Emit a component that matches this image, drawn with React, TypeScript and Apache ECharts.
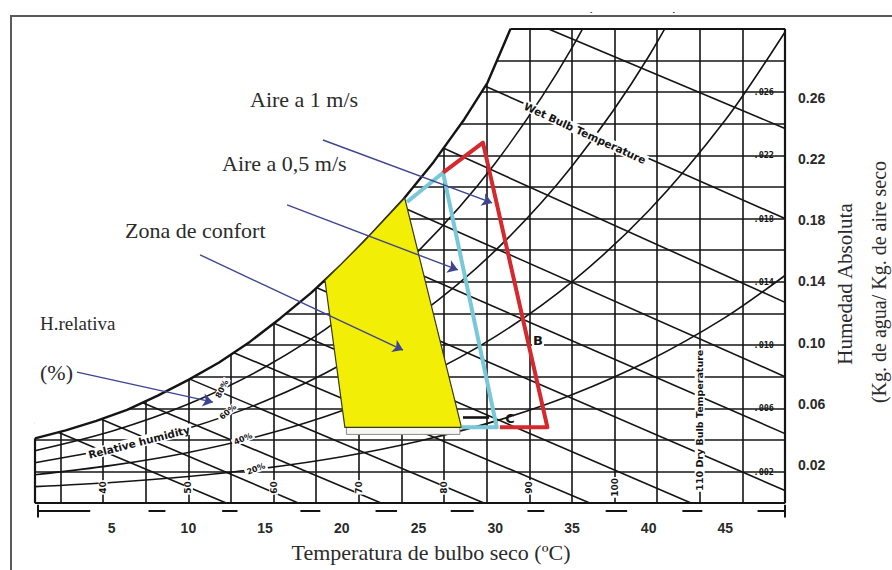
import React, { useEffect, useRef } from "react";
import * as echarts from "echarts";

// ---------- data ----------
// x axis: dry-bulb temperature (°C); y axis: humidity ratio of the printed chart (x 0.001)
const tempLabelsC = [5, 10, 15, 20, 25, 30, 35, 40, 45];
const absHumidityLabels = [0.02, 0.06, 0.1, 0.14, 0.18, 0.22, 0.26];
const ratioLabels = [2, 6, 10, 14, 18, 22, 26];
const ratioGrid = [2, 4, 6, 8, 10, 12, 14, 16, 18, 20, 22, 24, 26, 28];
const dryBulbGrid = [1.67, 4.44, 7.22, 10, 12.78, 15.56, 18.33, 21.11, 23.89, 26.67, 29.44, 32.22, 35, 37.78, 40.56, 43.33, 46.11];
const fahrenheitLabels = ["40", "50", "60", "70", "80", "90", "100"];
const fahrenheitLabelT = [4.44, 10, 15.56, 21.11, 26.67, 32.22, 37.78];
const fahrenheitLabelW = [1.0, 1.0, 1.0, 1.0, 1.0, 1.0, 1.0];
const dryBulbTitle = "110 Dry Bulb Temperature";
const dryBulbTitlePos = [43.33, 5.25];

const saturationT = [0, 2, 4, 6, 8, 10, 12, 14, 16, 18, 20, 22, 24, 26, 28, 29.5, 31];
const saturationW = [4.1, 4.6, 5.2, 5.9, 6.8, 7.8, 8.9, 10.2, 11.7, 13.3, 15.1, 17.1, 19.2, 21.6, 24.3, 26.6, 30];

// wet-bulb lines: [T start, w start, T end, w end]
const wetBulbLines = [
  [0, 5.1, 12.5, 0],
  [2.4, 6.1, 17.2, 0],
  [5.2, 7.1, 22.6, 0],
  [8.0, 8.7, 29.3, 0],
  [10.8, 10.4, 36.2, 0],
  [13.6, 12.2, 42.8, 0],
  [16.3, 14.5, 48.89, 0.8],
  [19.1, 17.0, 48.89, 4.4],
  [21.9, 19.6, 48.89, 8.0],
  [24.7, 23.3, 48.89, 12.7],
  [27.4, 27.2, 48.89, 18.0],
  [31.5, 30.8, 48.89, 23.7],
];

// relative-humidity curves (20 %, 40 %, 60 %, 80 %)
const rhT = [0, 5, 10, 15, 20, 25, 30, 35, 40, 45, 48.89];
const rh20W = [1.05, 1.31, 1.69, 2.22, 2.94, 3.92, 5.19, 6.86, 9.01, 11.75, 14.4];
const rh40W = [1.8, 2.39, 3.21, 4.34, 5.85, 7.88, 10.53, 14.0, 18.49, 24.23, 29.8];
const rh60W = [2.56, 3.47, 4.74, 6.46, 8.79, 11.9, 15.97, 21.31, 28.25, 37.2];
const rh80W = [3.32, 4.55, 6.27, 8.61, 11.75, 15.96, 21.5, 28.79, 38.3];
const rhCurves = [rh20W, rh40W, rh60W, rh80W];

// overlays
const comfortZone = [[24.1, 19.3], [21.5, 16.6], [18.9, 14.1], [20.2, 4.8], [27.8, 4.8]];
const comfortStrip = [[20.3, 4.8], [27.7, 4.8], [27.7, 4.35], [20.3, 4.35]];
const air05Path = [[24.25, 19.05], [26.6, 20.9], [30.1, 4.8], [27.8, 4.8]];
const air1Path = [[26.6, 20.9], [29.2, 22.8], [33.4, 4.8], [30.3, 4.8]];
const markerC = [[27.9, 5.45], [29.6, 5.45]];
const arrows = [
  [[18.77, 22.97], [29.8, 18.99]],
  [[16.43, 18.86], [27.57, 14.75]],
  [[10.76, 15.7], [23.99, 9.68]],
  [[2.74, 8.29], [11.6, 6.39]],
];
const scaleBar = [[0.2, 3.6], [7.4, 8.5], [12.2, 13.2], [17.3, 18.6], [22.2, 23.6], [27.1, 28.6], [32.1, 33.2], [37.2, 38.6], [42.2, 43.5], [47.1, 48.89]];

// ---------- styles ----------
const INK = "#141414";
const SERIF = '"Liberation Serif", "Times New Roman", serif';
const SANS = '"Liberation Sans", Arial, sans-serif';
const PRINT = '"DejaVu Sans", "Liberation Sans", sans-serif';

function polygonSeries(pts: number[][], style: any, z: number) {
  return {
    type: "custom",
    coordinateSystem: "cartesian2d",
    silent: true,
    clip: true,
    z,
    data: [[0, 0]],
    renderItem: (_p: any, api: any) => ({
      type: "polygon",
      shape: { points: pts.map((p) => api.coord(p)) },
      style,
    }),
  };
}

function lineSeries(data: number[][], lineStyle: any, z: number, smooth: any = false) {
  return {
    type: "line",
    data,
    smooth,
    symbol: "none",
    silent: true,
    z,
    lineStyle,
    emphasis: { disabled: true },
  };
}

function buildOption() {
  const gridLines = [
    ...ratioGrid.map((w) => ({ coords: [[0, w], [48.89, w]] })),
    ...dryBulbGrid.map((t) => ({ coords: [[t, 0], [t, 30]] })),
    ...wetBulbLines.map((l) => ({ coords: [[l[0], l[1]], [l[2], l[3]]] })),
  ];
  const frameLines = [
    { coords: [[0, 0], [48.89, 0]] },
    { coords: [[0, 0], [0, saturationW[0]]] },
    { coords: [[48.89, 0], [48.89, 30]] },
    { coords: [[saturationT[saturationT.length - 1], 30], [48.89, 30]] },
  ];
  const satPts = saturationT.map((t, i) => [t, saturationW[i]]);
  const maskPts = [...satPts, [48.89, 30], [48.89, 31], [0, 31]];

  const series: any[] = [
    {
      type: "lines",
      coordinateSystem: "cartesian2d",
      silent: true,
      z: 1,
      data: gridLines,
      lineStyle: { color: INK, width: 1.6, opacity: 1 },
    },
    ...rhCurves.map((arr) => lineSeries(arr.map((w, i) => [rhT[i], w]), { color: INK, width: 1.6 }, 1, 0.3)),
    polygonSeries(maskPts, { fill: "#ffffff" }, 3),
    {
      type: "lines",
      coordinateSystem: "cartesian2d",
      silent: true,
      z: 4,
      data: frameLines,
      lineStyle: { color: INK, width: 2.2, opacity: 1 },
    },
    lineSeries(satPts, { color: INK, width: 2.4 }, 4),
    {
      type: "lines",
      coordinateSystem: "cartesian2d",
      silent: true,
      z: 4,
      clip: false,
      data: [
        ...scaleBar.map((s) => ({ coords: [[s[0], -0.5], [s[1], -0.5]] })),
        { coords: [[0.2, -0.1], [0.2, -0.9]] },
        { coords: [[48.89, -0.1], [48.89, -0.9]] },
      ],
      lineStyle: { color: INK, width: 2, opacity: 1 },
    },
    {
      type: "scatter",
      silent: true,
      z: 5,
      symbolSize: 2,
      itemStyle: { color: "rgba(0,0,0,0)" },
      data: [
        ...fahrenheitLabels.map((name, i) => ({ name, value: [fahrenheitLabelT[i], fahrenheitLabelW[i]] })),
        {
          name: dryBulbTitle,
          value: dryBulbTitlePos,
          label: { fontSize: 9.5 },
        },
      ],
      label: {
        show: true,
        position: "inside",
        formatter: "{b}",
        rotate: 90,
        fontSize: 9,
        fontWeight: "bold",
        fontFamily: PRINT,
        color: INK,
        opacity: 1,
        backgroundColor: "#fff",
        padding: [0, 1],
      },
    },
    polygonSeries(comfortStrip, { fill: "#f6f6f2", stroke: "#8a8a8a", lineWidth: 1 }, 6),
    polygonSeries(comfortZone, { fill: "#f3ee05", stroke: "#3a3a10", lineWidth: 1.2 }, 6),
    {
      type: "lines",
      coordinateSystem: "cartesian2d",
      polyline: true,
      silent: true,
      z: 7,
      data: [{ coords: air05Path }],
      lineStyle: { color: "#78c8d8", width: 4, opacity: 1, join: "round" },
    },
    {
      type: "lines",
      coordinateSystem: "cartesian2d",
      polyline: true,
      silent: true,
      z: 7,
      data: [{ coords: air1Path }],
      lineStyle: { color: "#d42a2e", width: 4, opacity: 1, join: "round" },
    },
    {
      type: "lines",
      coordinateSystem: "cartesian2d",
      silent: true,
      z: 7,
      data: [{ coords: markerC }],
      lineStyle: { color: INK, width: 2.6, opacity: 1 },
    },
    {
      type: "lines",
      coordinateSystem: "cartesian2d",
      silent: true,
      z: 8,
      symbol: ["none", "arrow"],
      symbolSize: 10,
      data: arrows.map((a) => ({ coords: a })),
      lineStyle: { color: "#3d4590", width: 1.4, opacity: 1 },
    },
  ];

  const txt = (text: string, x: number, y: number, extra: any = {}, rot = 0) => ({
    type: "text",
    x,
    y,
    rotation: rot,
    z: 20,
    silent: true,
    style: {
      text,
      fill: "#2b2b2b",
      fontFamily: SERIF,
      fontSize: 22,
      align: "left",
      verticalAlign: "middle",
      ...extra,
    },
  });

  const small = { fontFamily: PRINT, fontWeight: "bold", fill: INK, align: "center", backgroundColor: "#fff", padding: [0, 2] };

  const graphic = [
    txt("Aire a 1 m/s", 250, 99),
    txt("Aire a 0,5 m/s", 222, 163),
    txt("Zona de confort", 125, 230),
    txt("H.relativa", 40, 323, { fontSize: 19 }),
    txt("(%)", 40, 372),
    txt("Temperatura de bulbo seco (ºC)", 431, 552, { align: "center" }),
    txt("Humedad Absoluta", 845, 284, { align: "center", fontSize: 21 }, Math.PI / 2),
    txt("(Kg. de agua/ Kg. de aire seco", 879, 282, { align: "center", fontSize: 20 }, Math.PI / 2),
    txt("Wet Bulb Temperature", 585, 133, { ...small, fontSize: 10.5 }, -0.43),
    txt("Relative humidity", 139, 442, { ...small, fontSize: 10.5 }, 0.25),
    txt("80%", 222, 389, { ...small, fontSize: 8 }, 1.1),
    txt("60%", 228, 412, { ...small, fontSize: 8 }, 0.7),
    txt("40%", 243, 439, { ...small, fontSize: 8 }, 0.4),
    txt("20%", 256, 469, { ...small, fontSize: 8 }, 0.35),
    txt("B", 538, 340, { ...small, fontSize: 13, padding: [0, 1] }),
    txt("C", 510, 418, { ...small, fontSize: 13, backgroundColor: "transparent" }),
  ];

  return {
    animation: false,
    backgroundColor: "#ffffff",
    grid: { left: 35, right: 107, top: 13, bottom: 51, containLabel: false, outerBoundsMode: "none" },
    xAxis: {
      type: "value",
      min: 0,
      max: 48.89,
      interval: 5,
      axisLine: { show: false, onZero: false },
      axisTick: { show: false },
      splitLine: { show: false },
      axisLabel: {
        margin: 2,
        fontSize: 14,
        fontWeight: "bold",
        fontFamily: SANS,
        color: "#2a2a2a",
        showMaxLabel: false,
        formatter: (v: number) => (tempLabelsC.includes(v) ? String(v) : ""),
      },
    },
    yAxis: [
      {
        type: "value",
        min: -1,
        max: 31,
        interval: 1,
        position: "right",
        axisLine: { show: false, onZero: false },
        axisTick: { show: false },
        splitLine: { show: false },
        axisLabel: {
          inside: true,
          customValues: ratioLabels,
          margin: 9,
          fontSize: 8.5,
          fontWeight: "bold",
          fontFamily: '"DejaVu Sans Mono", monospace',
          color: INK,
          backgroundColor: "#fff",
          padding: [1, 2],
          formatter: (v: number) => (ratioLabels.includes(v) ? "." + String(v).padStart(3, "0") : ""),
        },
      },
      {
        type: "value",
        min: -0.01531,
        max: 0.31558,
        position: "right",
        axisLine: { show: false, onZero: false },
        axisTick: { show: false },
        splitLine: { show: false },
        axisLabel: {
          customValues: absHumidityLabels,
          margin: 13,
          fontSize: 14,
          fontWeight: "bold",
          fontFamily: SANS,
          color: "#2a2a2a",
          formatter: (v: number) => v.toFixed(2),
        },
      },
    ],
    series,
    graphic,
  };
}

export default function App() {
  const ref = useRef<HTMLDivElement>(null);
  useEffect(() => {
    if (!ref.current) return;
    const chart = echarts.init(ref.current, undefined, { renderer: "svg" });
    chart.setOption(buildOption() as any);
    return () => chart.dispose();
  }, []);
  return (
    <div style={{ position: "fixed", left: 0, top: 0, width: 892, height: 570, overflow: "hidden", background: "#fff" }}>
      <div ref={ref} style={{ position: "absolute", left: 0, top: 0, width: 892, height: 570 }} />
      <div
        style={{
          position: "absolute",
          left: 10,
          top: 15,
          width: 900,
          height: 600,
          borderTop: "2px solid #5a5a5a",
          borderLeft: "2px solid #5a5a5a",
          pointerEvents: "none",
          boxSizing: "border-box",
        }}
      />
    </div>
  );
}
